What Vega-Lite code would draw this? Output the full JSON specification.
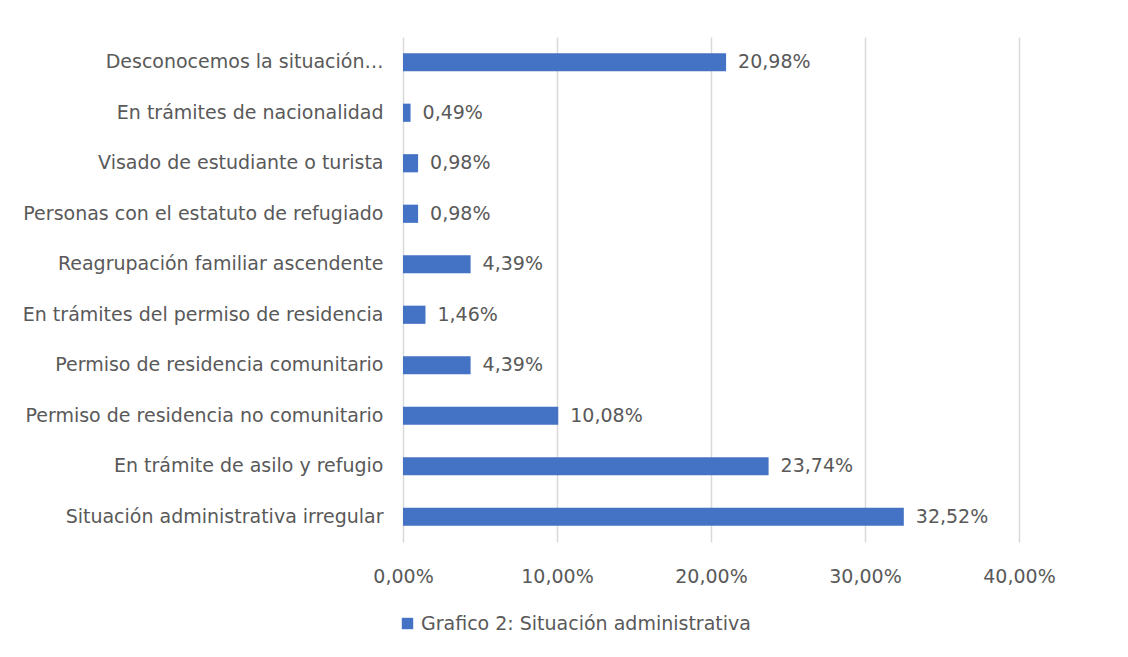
{
  "$schema": "https://vega.github.io/schema/vega-lite/v6.json",
  "width": 616,
  "height": 505,
  "autosize": "none",
  "padding": {"left": 403, "top": 37, "right": 109, "bottom": 115},
  "background": "white",
  "config": {
    "locale": {"number": {"decimal": ",", "thousands": ".", "grouping": [3], "currency": ["", " €"]}},
    "view": {"stroke": null},
    "font": "DejaVu Sans",
    "axis": {"labelFont": "DejaVu Sans", "labelColor": "#595959", "labelFontSize": 19}
  },
  "data": {
    "values": [
      {"categoria": "Desconocemos la situación…", "valor": 0.2098, "serie": "Grafico 2: Situación administrativa"},
      {"categoria": "En trámites de nacionalidad", "valor": 0.0049, "serie": "Grafico 2: Situación administrativa"},
      {"categoria": "Visado de estudiante o turista", "valor": 0.0098, "serie": "Grafico 2: Situación administrativa"},
      {"categoria": "Personas con el estatuto de refugiado", "valor": 0.0098, "serie": "Grafico 2: Situación administrativa"},
      {"categoria": "Reagrupación familiar ascendente", "valor": 0.0439, "serie": "Grafico 2: Situación administrativa"},
      {"categoria": "En trámites del permiso de residencia", "valor": 0.0146, "serie": "Grafico 2: Situación administrativa"},
      {"categoria": "Permiso de residencia comunitario", "valor": 0.0439, "serie": "Grafico 2: Situación administrativa"},
      {"categoria": "Permiso de residencia no comunitario", "valor": 0.1008, "serie": "Grafico 2: Situación administrativa"},
      {"categoria": "En trámite de asilo y refugio", "valor": 0.2374, "serie": "Grafico 2: Situación administrativa"},
      {"categoria": "Situación administrativa irregular", "valor": 0.3252, "serie": "Grafico 2: Situación administrativa"}
    ]
  },
  "encoding": {
    "y": {
      "field": "categoria", "type": "nominal", "sort": null,
      "scale": {"paddingInner": 0.64, "paddingOuter": 0.32},
      "axis": {"title": null, "ticks": false, "domain": false, "labelPadding": 20, "labelLimit": 400}
    },
    "x": {
      "field": "valor", "type": "quantitative",
      "scale": {"domain": [0, 0.4]},
      "axis": {"title": null, "format": ".2%", "values": [0, 0.1, 0.2, 0.3, 0.4], "ticks": false, "domain": false, "labelFlush": false, "labelPadding": 25, "gridColor": "#d9d9d9", "gridWidth": 1.5}
    }
  },
  "layer": [
    {
      "mark": {"type": "bar", "color": "#4472C4"},
      "encoding": {
        "color": {
          "field": "serie", "type": "nominal",
          "scale": {"range": ["#4472C4"]},
          "legend": {"title": null, "orient": "none", "legendX": -5, "legendY": 577, "symbolType": "square", "symbolSize": 130, "labelFontSize": 19, "labelColor": "#595959", "labelFont": "DejaVu Sans", "labelLimit": 500, "symbolOpacity": 1}
        }
      }
    },
    {
      "mark": {"type": "text", "align": "left", "dx": 12, "fontSize": 19, "color": "#595959", "font": "DejaVu Sans"},
      "encoding": {"text": {"field": "valor", "type": "quantitative", "format": ".2%"}}
    }
  ]
}
